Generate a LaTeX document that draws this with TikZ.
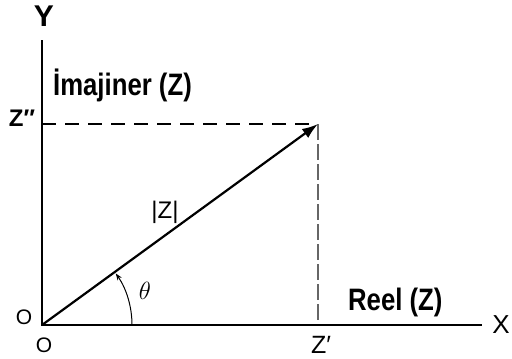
\documentclass[tikz,border=0pt]{standalone}
\usepackage{fontspec}
\setmainfont{Liberation Sans}
\usetikzlibrary{arrows.meta}
\begin{document}
\begin{tikzpicture}[x=1pt,y=-1pt,
  axis/.style={line width=2.2pt},
  vec/.style={line width=2.2pt,-{Latex[length=16pt,width=11pt]}},
  dashh/.style={line width=1.4pt,dash pattern=on 14pt off 9pt},
  dashv/.style={line width=1.6pt,gray!80!black,dash pattern=on 16pt off 4pt},
  lbl/.style={inner sep=0pt,font=\fontsize{31}{33}\selectfont\bfseries},
  sm/.style={inner sep=0pt,font=\fontsize{25}{27}\selectfont}]
\useasboundingbox (0,0) rectangle (512,359);
\coordinate (O) at (42,325);
\coordinate (Ytop) at (42,40);
\coordinate (Xend) at (482,325);
\coordinate (P) at (318,124);
\coordinate (Pz) at (318,325);
\coordinate (Py) at (42,124);
\draw[dashh] (Py) -- (P);
\draw[dashv] (P) -- (Pz);
\draw[axis] (Ytop) -- (O) -- (Xend);
\draw[vec] (O) -- (P);
\draw[line width=1pt,-{Stealth[length=7pt,width=5pt]}] (132,325) arc[start angle=0,end angle=-35,radius=90];
\node[lbl,font=\fontsize{30}{32}\selectfont\bfseries] (Y) at (44,16) {Y};
\node[sm,font=\fontsize{26}{28}\selectfont] (X) at (501,325) {X};
\node[lbl,anchor=base west,xscale=0.83] (im) at (53,95) {İmajiner (Z)};
\node[lbl,anchor=base west,xscale=0.83] (re) at (348,310) {Reel (Z)};
\node[sm,font=\fontsize{24}{26}\selectfont\bfseries] (zpp) at (22,118) {Z″};
\node[sm] (zp) at (321,345) {Z′};
\node[sm,font=\fontsize{21}{23}\selectfont] (o1) at (24,317) {O};
\node[sm,font=\fontsize{21}{23}\selectfont] (o2) at (44,345) {O};
\node[sm,font=\fontsize{24}{26}\selectfont] (mod) at (165,212) {|Z|};
\node[inner sep=0pt,font=\fontsize{28}{30}\selectfont] (th) at (145,291) {$\theta$};
\end{tikzpicture}
\end{document}
